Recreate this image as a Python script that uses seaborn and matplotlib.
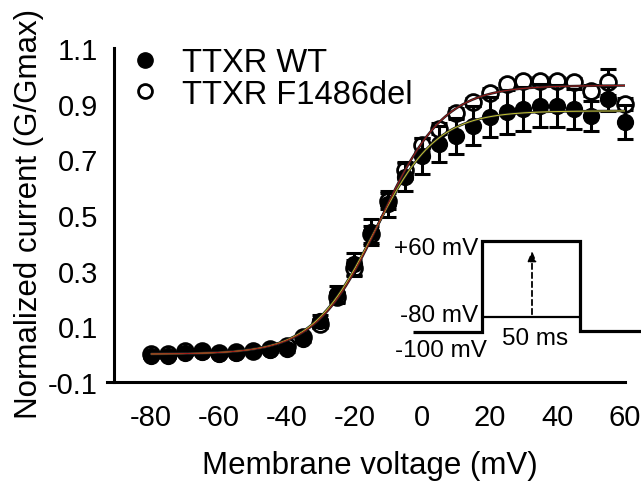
import numpy as np
import pandas as pd
import matplotlib
matplotlib.use("Agg")
import matplotlib.pyplot as plt
import seaborn as sns
from matplotlib.lines import Line2D

# Membrane voltage steps (mV)
voltage = [-80, -75, -70, -65, -60, -55, -50, -45, -40, -35, -30, -25, -20, -15,
           -10, -5, 0, 5, 10, 15, 20, 25, 30, 35, 40, 45, 50, 55, 60]

# Normalized conductance, TTXR WT (mean and SEM)
wt_mean = [-0.007, -0.007, 0.004, 0.008, 0.001, 0.004, 0.011, 0.015, 0.019, 0.055,
           0.119, 0.216, 0.324, 0.439, 0.540, 0.637, 0.712, 0.755, 0.784, 0.820,
           0.852, 0.870, 0.881, 0.892, 0.892, 0.881, 0.856, 0.917, 0.834]
wt_sem = [0.008, 0.008, 0.008, 0.008, 0.008, 0.008, 0.008, 0.008, 0.010, 0.012,
          0.020, 0.030, 0.040, 0.048, 0.047, 0.050, 0.065, 0.063, 0.065, 0.070,
          0.072, 0.078, 0.078, 0.077, 0.075, 0.072, 0.054, 0.045, 0.061]

# Normalized conductance, TTXR F1486del (mean and SEM)
mut_mean = [0.000, 0.000, 0.010, 0.010, 0.005, 0.008, 0.012, 0.020, 0.030, 0.060,
            0.110, 0.205, 0.310, 0.430, 0.550, 0.660, 0.750, 0.810, 0.865, 0.905,
            0.940, 0.970, 0.982, 0.982, 0.982, 0.978, 0.946, 0.978, 0.899]
mut_sem = [0.005, 0.005, 0.005, 0.005, 0.005, 0.005, 0.005, 0.005, 0.008, 0.010,
           0.015, 0.020, 0.030, 0.030, 0.030, 0.030, 0.025, 0.020, 0.020, 0.015,
           0.015, 0.015, 0.015, 0.015, 0.015, 0.015, 0.020, 0.047, 0.020]

labels = ["TTXR WT", "TTXR F1486del"]
x_ticks = [-80, -60, -40, -20, 0, 20, 40, 60]
y_ticks = [-0.1, 0.1, 0.3, 0.5, 0.7, 0.9, 1.1]


def boltzmann(v, vh, k, gmax):
    return gmax / (1.0 + np.exp((vh - v) / k))


def fit_boltzmann(v, g):
    """Least-squares Boltzmann fit by grid search on V1/2 and k (Gmax solved exactly)."""
    v = np.asarray(v, float)
    g = np.asarray(g, float)
    vh_grid = np.arange(-30.0, 0.0, 0.05)
    k_grid = np.arange(3.0, 15.0, 0.05)
    VH, K = np.meshgrid(vh_grid, k_grid, indexing="ij")
    f = 1.0 / (1.0 + np.exp((VH[..., None] - v) / K[..., None]))
    gmax = (f * g).sum(-1) / (f * f).sum(-1)
    sse = ((gmax[..., None] * f - g) ** 2).sum(-1)
    i, j = np.unravel_index(sse.argmin(), sse.shape)
    return vh_grid[i], k_grid[j], gmax[i, j]


df = pd.DataFrame({
    "voltage": voltage * 2,
    "G": wt_mean + mut_mean,
    "err": wt_sem + mut_sem,
    "group": [labels[0]] * len(voltage) + [labels[1]] * len(voltage),
})

sns.set_style("white")
plt.rcParams["font.family"] = ["Liberation Sans", "DejaVu Sans"]
plt.rcParams["axes.unicode_minus"] = False
plt.rcParams["text.color"] = "black"

W, H = 641, 485
fig = plt.figure(figsize=(W / 100, H / 100), dpi=100)
x0, x1, y0, y1 = 107.2, 625.0, 49.0, 383.0
ax = fig.add_axes([x0 / W, 1 - y1 / H, (x1 - x0) / W, (y1 - y0) / H])

lw = 2.2
msize = 130
wt = df[df["group"] == labels[0]]
mut = df[df["group"] == labels[1]]

# mutant: error bars then open circles
ax.errorbar(mut["voltage"], mut["G"], yerr=mut["err"], fmt="none", ecolor="black",
            elinewidth=lw, capsize=6, capthick=lw, zorder=2, clip_on=False)
sns.scatterplot(data=mut, x="voltage", y="G", ax=ax, marker="o", s=msize,
                facecolor="white", edgecolor="black", linewidth=2.0,
                zorder=3, clip_on=False, legend=False)
# WT: error bars then filled circles
ax.errorbar(wt["voltage"], wt["G"], yerr=wt["err"], fmt="none", ecolor="black",
            elinewidth=lw, capsize=6, capthick=lw, zorder=4, clip_on=False)
sns.scatterplot(data=wt, x="voltage", y="G", ax=ax, marker="o", s=msize,
                color="black", edgecolor="black", linewidth=1.0,
                zorder=5, clip_on=False, legend=False)

# Boltzmann fits
vfit = np.linspace(-80, 60, 400)
for means, col in [(wt_mean, "#c8c832"), (mut_mean, "#a01818")]:
    vh, k, gmax = fit_boltzmann(voltage, means)
    gfit = boltzmann(vfit, vh, k, gmax)
    sns.lineplot(x=vfit, y=gfit, ax=ax, color="#202020", linewidth=1.8,
                 zorder=6, sort=False)
    sns.lineplot(x=vfit, y=gfit, ax=ax, color=col, linewidth=0.7,
                 zorder=7, sort=False)

ax.set_xlim(-93, 60)
ax.set_ylim(-0.1, 1.1)
ax.set_xticks(x_ticks)
ax.set_xticklabels([str(t) for t in x_ticks])
ax.set_yticks(y_ticks)
ax.set_yticklabels([f"{t:.1f}" for t in y_ticks])
for s in ["top", "right"]:
    ax.spines[s].set_visible(False)
ax.spines["left"].set_position(("data", -91))
ax.spines["left"].set_bounds(-0.1, 1.1)
for s in ["left", "bottom"]:
    ax.spines[s].set_linewidth(lw)
    ax.spines[s].set_color("black")
ax.tick_params(axis="both", direction="out", length=7, width=lw,
               colors="black", labelsize=21)
ax.tick_params(axis="x", pad=8)
ax.tick_params(axis="y", pad=4.5)
ax.set_facecolor("none")

ax.set_xlabel("Membrane voltage (mV)", fontsize=22.5, color="black")
ax.set_ylabel("Normalized current (G/Gmax)", fontsize=22.5, color="black")
ax.xaxis.set_label_coords((370 - x0) / (x1 - x0), -(451 - y1) / (y1 - y0))
ax.yaxis.set_label_coords((44 - x0) / (x1 - x0), (y1 - 214) / (y1 - y0))

handles = [
    Line2D([], [], marker="o", linestyle="none", markersize=11,
           markerfacecolor="black", markeredgecolor="black"),
    Line2D([], [], marker="o", linestyle="none", markersize=10,
           markerfacecolor="white", markeredgecolor="black", markeredgewidth=2.0),
]
leg = ax.legend(handles, labels, loc="center left",
                bbox_to_anchor=(128.7 / W, 1 - 79.5 / H), bbox_transform=fig.transFigure,
                frameon=False, fontsize=23.5, handlelength=1.0, handletextpad=0.62,
                labelspacing=0.0, borderpad=0, borderaxespad=0)
for t in leg.get_texts():
    t.set_color("black")

# Voltage-step protocol schematic (pixel coordinates)
ov = fig.add_axes([0, 0, 1, 1])
ov.set_xlim(0, W)
ov.set_ylim(H, 0)
ov.axis("off")
ov.patch.set_alpha(0)
pk = dict(color="black", linewidth=2.3, solid_capstyle="butt",
          solid_joinstyle="miter")
ov.plot([413, 482, 482, 580, 580, 641], [333, 333, 242, 242, 332, 332], **pk)
ov.plot([482, 580], [318, 318], color="black", linewidth=1.6)
ov.annotate("", xy=(532, 249), xytext=(532, 318),
            arrowprops=dict(arrowstyle="-|>,head_length=0.6,head_width=0.25",
                            color="black", linestyle=(0, (3, 2)), linewidth=1.3))
tk = dict(fontsize=17.5, color="black")
ov.text(478, 255, "+60 mV", ha="right", va="baseline", **tk)
ov.text(478, 322, "-80 mV", ha="right", va="baseline", **tk)
ov.text(487, 357, "-100 mV", ha="right", va="baseline", **tk)
ov.text(535, 345, "50 ms", ha="center", va="baseline", **tk)

fig.savefig("out.png", dpi=100)
